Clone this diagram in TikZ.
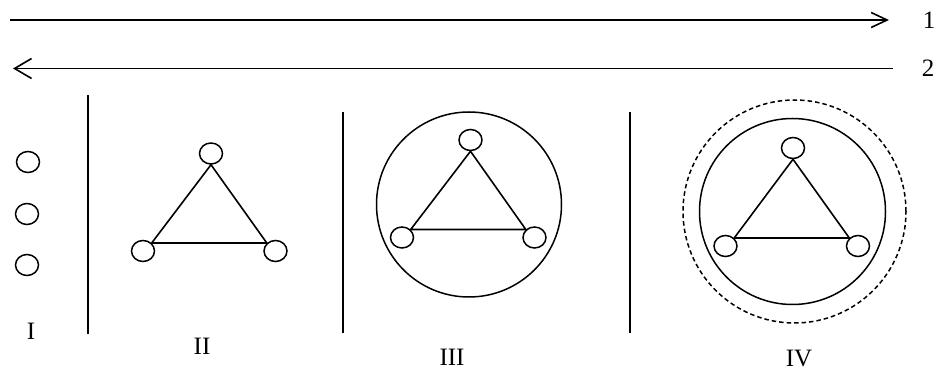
\documentclass[tikz,border=0pt]{standalone}
\usepackage{fontspec}
\setmainfont{Liberation Serif}
\usetikzlibrary{arrows.meta,shapes.geometric}
\begin{document}
\begin{tikzpicture}[x=1pt,y=-1pt,
  ln/.style={line width=1.6pt},
  dot/.style={draw,ellipse,line width=1.5pt,minimum width=23pt,minimum height=21pt,inner sep=0pt},
  ring/.style={draw,circle,line width=1.5pt,inner sep=0pt},
  lbl/.style={font=\fontsize{25}{30}\selectfont,inner sep=0pt},
  sep/.style={line width=1.7pt}]
\useasboundingbox (0,0) rectangle (938,374);
% arrows
\coordinate (a1s) at (10,20);
\coordinate (a1e) at (889,20);
\coordinate (a2s) at (893,68.5);
\coordinate (a2e) at (13,68.5);
\draw[ln,-{Straight Barb[length=16pt,width=15pt,line width=1.6pt]}] (a1s) -- (a1e);
\draw[ln,-{Straight Barb[length=17pt,width=20pt,line width=1.6pt]}] (a2s) -- (a2e);
\node[lbl] (n1) at (929,20) {1};
\node[lbl] (n2) at (928,68.5) {2};
% separators
\coordinate (s1t) at (88,95);  \coordinate (s1b) at (88,334);
\coordinate (s2t) at (343,112); \coordinate (s2b) at (343,333);
\coordinate (s3t) at (630,112); \coordinate (s3b) at (630,333);
\draw[sep] (s1t) -- (s1b);
\draw[sep] (s2t) -- (s2b);
\draw[sep] (s3t) -- (s3b);
% I
\node[dot] (i1) at (28,162) {};
\node[dot] (i2) at (27,214) {};
\node[dot] (i3) at (27,265) {};
\node[lbl] (li) at (31,331) {I};
% II
\node[dot] (t2) at (211,153.5) {};
\node[dot] (l2) at (143,251) {};
\node[dot] (r2) at (275.5,251) {};
\draw[ln] (t2.south) -- (l2.north east) -- (r2.north west) -- cycle;
\node[lbl] (lii) at (202,346) {II};
% III
\node[ring,minimum size=185pt] (c3) at (469,204.5) {};
\node[dot] (t3) at (470.5,140) {};
\node[dot] (l3) at (402,237.5) {};
\node[dot] (r3) at (534.5,237.5) {};
\draw[ln] (t3.south) -- (l3.north east) -- (r3.north west) -- cycle;
\node[lbl] (liii) at (452,357) {III};
% IV
\node[ring,dash pattern=on 4.5pt off 3pt,minimum size=223pt] (d4) at (794.5,211.5) {};
\node[ring,minimum size=186pt] (c4) at (792.5,211.5) {};
\node[dot] (t4) at (793,148) {};
\node[dot] (l4) at (725.5,246) {};
\node[dot] (r4) at (858,246) {};
\draw[ln] (t4.south) -- (l4.north east) -- (r4.north west) -- cycle;
\node[lbl] (liv) at (799,359) {IV};
\end{tikzpicture}
\end{document}
